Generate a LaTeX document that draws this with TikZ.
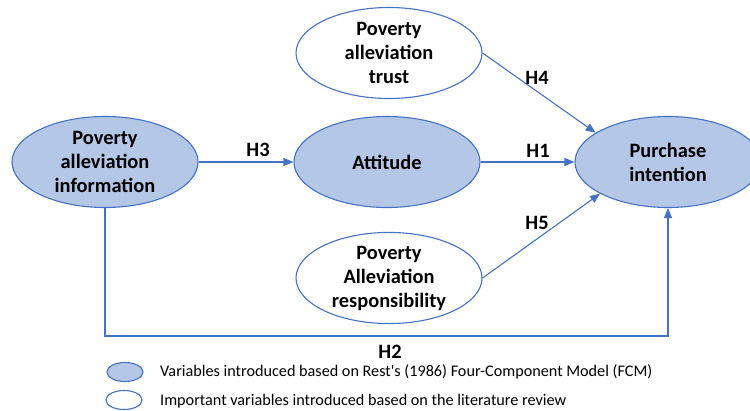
\documentclass[tikz,border=0pt]{standalone}
\usepackage{fontspec}
\setmainfont{Carlito}
\usepackage{tikz}
\usetikzlibrary{shapes.geometric,arrows.meta}
\definecolor{lineBlue}{HTML}{4472C4}
\definecolor{fillBlue}{HTML}{B4C7E7}

\begin{document}
\begin{tikzpicture}[x=1pt,y=-1pt,%%
  varStyle/.style={ellipse,draw=lineBlue,line width=1.1pt,minimum width=186pt,%%
    minimum height=91pt,inner sep=0pt,align=center,%%
    font=\fontsize{20.4}{24}\selectfont\bfseries},%%
  fcmStyle/.style={varStyle,fill=fillBlue},%%
  litStyle/.style={varStyle,fill=white},%%
  arrowStyle/.style={-{Triangle[length=10pt,width=8pt]},draw=lineBlue,line width=1.1pt},%%
  labelStyle/.style={font=\fontsize{20.4}{24}\selectfont\bfseries},%%
  legendStyle/.style={ellipse,draw=lineBlue,line width=1.1pt,minimum width=36pt,%%
    minimum height=19pt,inner sep=0pt},%%
  legendText/.style={anchor=west,inner sep=0pt,font=\fontsize{16.2}{19}\selectfont}%%
]
%%
\useasboundingbox (0,0) rectangle (750,410);
%%
%% Variables of the model.
\node[fcmStyle] (info) at (105,162) {Poverty\\alleviation\\information};
\node[fcmStyle] (attitude) at (387,162) {Attitude};
\node[litStyle] (trust) at (389,53) {Poverty\\alleviation\\trust};
\node[litStyle] (resp) at (389,278) {Poverty\\Alleviation\\responsibility};
\node[fcmStyle] (purchase) at (668,162) {Purchase\\intention};
%%
%% Hypotheses.
\draw[arrowStyle] (info.east) -- (attitude.west);
\node[labelStyle] (h3) at (258,150) {H3};
\draw[arrowStyle] (attitude.east) -- (purchase.west);
\node[labelStyle] (h1) at (538,151) {H1};
\draw[arrowStyle] (trust.east) -- (purchase.158);
\node[labelStyle] (h4) at (537,78) {H4};
\draw[arrowStyle] (resp.east) -- (purchase.205);
\node[labelStyle] (h5) at (537,223) {H5};
%% The long way round for H2.
\coordinate (h2turn) at (668,336);
\draw[arrowStyle] (info.south) |- (h2turn) -- (purchase.south);
\node[labelStyle] (h2) at (390,352) {H2};
%%
%% Legend.
\node[legendStyle,fill=fillBlue] (fcmKey) at (125,372) {};
\node[legendText] (fcmKeyText) at (160,372) {Variables introduced based on Rest\textquotesingle s (1986) Four-Component Model (FCM)};
\node[legendStyle,fill=white] (litKey) at (124,400) {};
\node[legendText] (litKeyText) at (160,401) {Important variables introduced based on the literature review};
\end{tikzpicture}
\end{document}
